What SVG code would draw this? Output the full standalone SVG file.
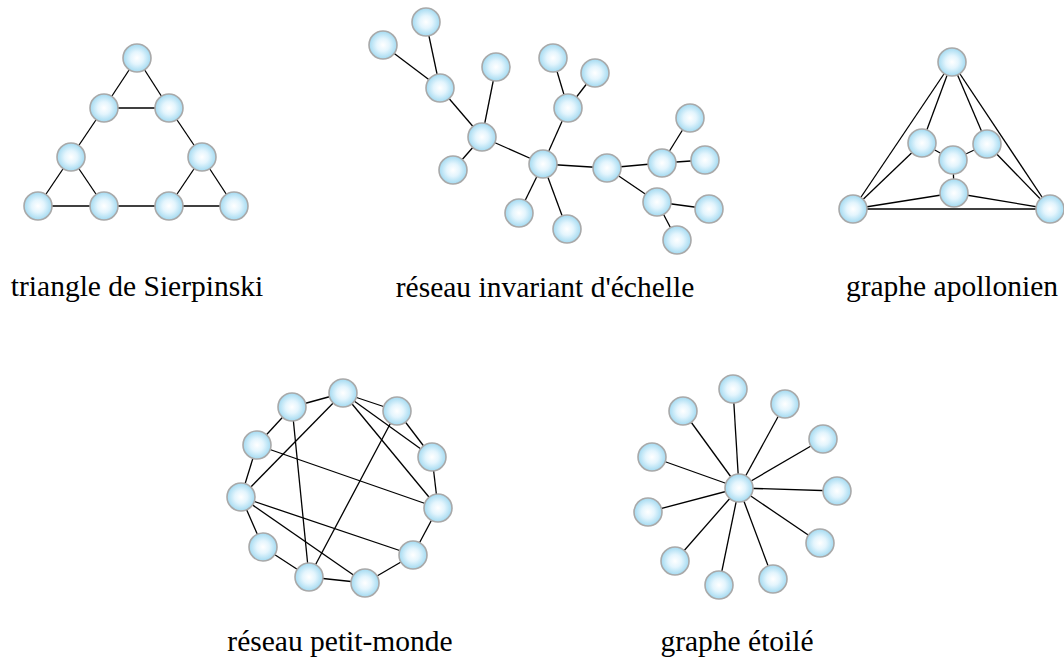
<svg xmlns="http://www.w3.org/2000/svg" width="1064" height="659" viewBox="0 0 1064 659">
<defs>
<radialGradient id="ng" cx="0.5" cy="0.5" r="0.5" fx="0.5" fy="0.5">
<stop offset="0" stop-color="#ffffff"/>
<stop offset="0.45" stop-color="#e4f5fd"/>
<stop offset="1" stop-color="#a3daf1"/>
</radialGradient>
</defs>
<style>
.n{fill:url(#ng);stroke:#a9a9a9;stroke-width:1.6}
.e line{stroke:#000;stroke-width:1.3}
.t{font-family:"Liberation Serif","Times New Roman",serif;font-size:29.5px;fill:#000;text-anchor:middle}
</style>
<rect width="1064" height="659" fill="#fff"/>
<g id="connectors" class="e">
<line x1="137" y1="58" x2="104" y2="108"/>
<line x1="137" y1="58" x2="169" y2="108"/>
<line x1="104" y1="108" x2="169" y2="108"/>
<line x1="104" y1="108" x2="71" y2="157"/>
<line x1="169" y1="108" x2="202" y2="157"/>
<line x1="71" y1="157" x2="38" y2="206"/>
<line x1="71" y1="157" x2="104" y2="206"/>
<line x1="202" y1="157" x2="169" y2="206"/>
<line x1="202" y1="157" x2="234" y2="206"/>
<line x1="38" y1="206" x2="234" y2="206"/>
<line x1="426" y1="22" x2="440" y2="88"/>
<line x1="383" y1="45" x2="440" y2="88"/>
<line x1="440" y1="88" x2="482" y2="137"/>
<line x1="496" y1="67" x2="482" y2="137"/>
<line x1="482" y1="137" x2="453" y2="170"/>
<line x1="482" y1="137" x2="543" y2="164"/>
<line x1="543" y1="164" x2="568" y2="108"/>
<line x1="568" y1="108" x2="553" y2="58"/>
<line x1="568" y1="108" x2="595" y2="73"/>
<line x1="543" y1="164" x2="607" y2="168"/>
<line x1="543" y1="164" x2="519" y2="213"/>
<line x1="543" y1="164" x2="567" y2="229"/>
<line x1="607" y1="168" x2="662" y2="163"/>
<line x1="662" y1="163" x2="690" y2="118"/>
<line x1="662" y1="163" x2="705" y2="160"/>
<line x1="607" y1="168" x2="657" y2="202"/>
<line x1="657" y1="202" x2="709" y2="209"/>
<line x1="657" y1="202" x2="677" y2="240"/>
<line x1="952" y1="62" x2="853" y2="209"/>
<line x1="952" y1="62" x2="1050" y2="209"/>
<line x1="853" y1="209" x2="1050" y2="209"/>
<line x1="952" y1="62" x2="922" y2="143"/>
<line x1="952" y1="62" x2="987" y2="144"/>
<line x1="853" y1="209" x2="922" y2="143"/>
<line x1="1050" y1="209" x2="987" y2="144"/>
<line x1="922" y1="143" x2="953" y2="160"/>
<line x1="987" y1="144" x2="953" y2="160"/>
<line x1="953" y1="160" x2="954" y2="193"/>
<line x1="853" y1="209" x2="954" y2="193"/>
<line x1="1050" y1="209" x2="954" y2="193"/>
<line x1="343" y1="393" x2="292" y2="407"/>
<line x1="292" y1="407" x2="257" y2="445"/>
<line x1="257" y1="445" x2="241" y2="497"/>
<line x1="241" y1="497" x2="263" y2="547"/>
<line x1="263" y1="547" x2="309" y2="577"/>
<line x1="309" y1="577" x2="365" y2="583"/>
<line x1="365" y1="583" x2="413" y2="555"/>
<line x1="413" y1="555" x2="438" y2="508"/>
<line x1="438" y1="508" x2="432" y2="457"/>
<line x1="432" y1="457" x2="397" y2="411"/>
<line x1="397" y1="411" x2="343" y2="393"/>
<line x1="343" y1="393" x2="241" y2="497"/>
<line x1="343" y1="393" x2="432" y2="457"/>
<line x1="343" y1="393" x2="438" y2="508"/>
<line x1="292" y1="407" x2="309" y2="577"/>
<line x1="397" y1="411" x2="309" y2="577"/>
<line x1="257" y1="445" x2="438" y2="508"/>
<line x1="241" y1="497" x2="413" y2="555"/>
<line x1="241" y1="497" x2="365" y2="583"/>
<line x1="739" y1="488" x2="733" y2="389"/>
<line x1="739" y1="488" x2="683" y2="411"/>
<line x1="739" y1="488" x2="785" y2="404"/>
<line x1="739" y1="488" x2="823" y2="439"/>
<line x1="739" y1="488" x2="652" y2="457"/>
<line x1="739" y1="488" x2="837" y2="491"/>
<line x1="739" y1="488" x2="648" y2="512"/>
<line x1="739" y1="488" x2="820" y2="543"/>
<line x1="739" y1="488" x2="675" y2="561"/>
<line x1="739" y1="488" x2="719" y2="585"/>
<line x1="739" y1="488" x2="773" y2="579"/>
</g>
<g id="sierpinski">
<circle class="n" cx="137" cy="58" r="14"/>
<circle class="n" cx="104" cy="108" r="14"/>
<circle class="n" cx="169" cy="108" r="14"/>
<circle class="n" cx="71" cy="157" r="14"/>
<circle class="n" cx="202" cy="157" r="14"/>
<circle class="n" cx="38" cy="206" r="14"/>
<circle class="n" cx="104" cy="206" r="14"/>
<circle class="n" cx="169" cy="206" r="14"/>
<circle class="n" cx="234" cy="206" r="14"/>
</g>
<g id="scale-free">
<circle class="n" cx="426" cy="22" r="14"/>
<circle class="n" cx="383" cy="45" r="14"/>
<circle class="n" cx="440" cy="88" r="14"/>
<circle class="n" cx="496" cy="67" r="14"/>
<circle class="n" cx="482" cy="137" r="14"/>
<circle class="n" cx="453" cy="170" r="14"/>
<circle class="n" cx="543" cy="164" r="14"/>
<circle class="n" cx="553" cy="58" r="14"/>
<circle class="n" cx="595" cy="73" r="14"/>
<circle class="n" cx="568" cy="108" r="14"/>
<circle class="n" cx="607" cy="168" r="14"/>
<circle class="n" cx="662" cy="163" r="14"/>
<circle class="n" cx="690" cy="118" r="14"/>
<circle class="n" cx="705" cy="160" r="14"/>
<circle class="n" cx="657" cy="202" r="14"/>
<circle class="n" cx="709" cy="209" r="14"/>
<circle class="n" cx="677" cy="240" r="14"/>
<circle class="n" cx="519" cy="213" r="14"/>
<circle class="n" cx="567" cy="229" r="14"/>
</g>
<g id="apollonian">
<circle class="n" cx="952" cy="62" r="14"/>
<circle class="n" cx="922" cy="143" r="14"/>
<circle class="n" cx="987" cy="144" r="14"/>
<circle class="n" cx="953" cy="160" r="14"/>
<circle class="n" cx="954" cy="193" r="14"/>
<circle class="n" cx="853" cy="209" r="14"/>
<circle class="n" cx="1050" cy="209" r="14"/>
</g>
<g id="small-world">
<circle class="n" cx="343" cy="393" r="14"/>
<circle class="n" cx="292" cy="407" r="14"/>
<circle class="n" cx="397" cy="411" r="14"/>
<circle class="n" cx="257" cy="445" r="14"/>
<circle class="n" cx="432" cy="457" r="14"/>
<circle class="n" cx="241" cy="497" r="14"/>
<circle class="n" cx="438" cy="508" r="14"/>
<circle class="n" cx="263" cy="547" r="14"/>
<circle class="n" cx="413" cy="555" r="14"/>
<circle class="n" cx="309" cy="577" r="14"/>
<circle class="n" cx="365" cy="583" r="14"/>
</g>
<g id="star">
<circle class="n" cx="733" cy="389" r="14"/>
<circle class="n" cx="683" cy="411" r="14"/>
<circle class="n" cx="785" cy="404" r="14"/>
<circle class="n" cx="823" cy="439" r="14"/>
<circle class="n" cx="652" cy="457" r="14"/>
<circle class="n" cx="837" cy="491" r="14"/>
<circle class="n" cx="648" cy="512" r="14"/>
<circle class="n" cx="820" cy="543" r="14"/>
<circle class="n" cx="675" cy="561" r="14"/>
<circle class="n" cx="719" cy="585" r="14"/>
<circle class="n" cx="773" cy="579" r="14"/>
<circle class="n" cx="739" cy="488" r="14"/>
</g>
<g id="labels">
<text class="t" x="137" y="296">triangle de Sierpinski</text>
<text class="t" x="545" y="297">réseau invariant d'échelle</text>
<text class="t" x="952" y="296">graphe apollonien</text>
<text class="t" x="340" y="651">réseau petit-monde</text>
<text class="t" x="737" y="651">graphe étoilé</text>
</g>
</svg>
